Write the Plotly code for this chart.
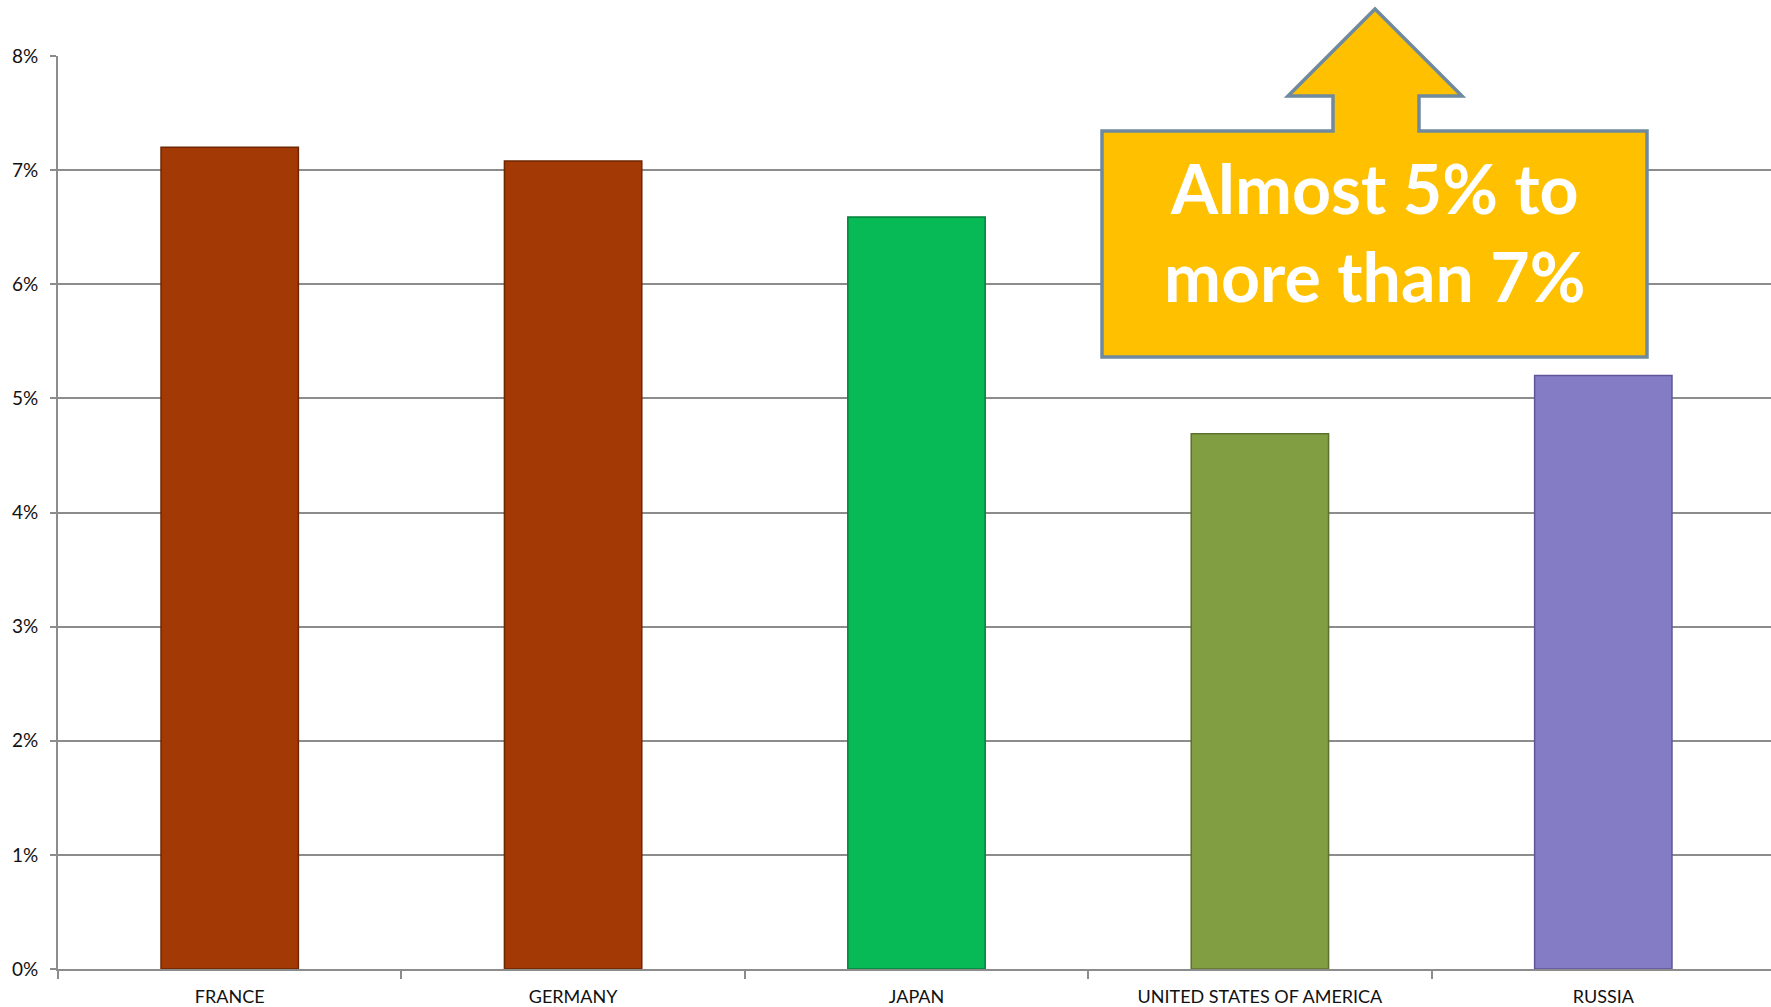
import plotly.graph_objects as go

countries = ["FRANCE", "GERMANY", "JAPAN", "UNITED STATES OF AMERICA", "RUSSIA"]
values = [7.20, 7.08, 6.59, 4.69, 5.20]
bar_colors = ["#A33905", "#A33905", "#07BA56", "#819E43", "#857CC6"]
edge_colors = ["#6E2603", "#6E2603", "#04803A", "#5A722C", "#5E5699"]
y_ticks = [0, 1, 2, 3, 4, 5, 6, 7, 8]
y_tick_labels = [f"{t}%" for t in y_ticks]
callout_lines = ["Almost 5% to", "more than 7%"]

W, H = 1771, 1007
L, R, T, B = 58, 0, 56, 38
pw, ph = W - L - R, H - T - B

def px(x):
    return (x - L) / pw

def py(y):
    return (H - B - y) / ph

fig = go.Figure()
fig.add_trace(go.Bar(
    x=countries, y=values,
    marker=dict(color=bar_colors, line=dict(color=edge_colors, width=1.5)),
    width=0.40,
    hoverinfo="skip",
))

grid = "#8C8C8C"
fig.update_layout(
    width=W, height=H,
    margin=dict(l=L, r=R, t=T, b=B),
    paper_bgcolor="white", plot_bgcolor="white",
    showlegend=False,
    font=dict(family="Lato, 'Open Sans', sans-serif", size=19, color="#111111"),
    xaxis=dict(
        type="category", range=[-0.5, -0.5 + pw / 343.4],
        showline=True, linecolor=grid, linewidth=2,
        ticks="outside", ticklen=8, tickwidth=1.5, tickcolor=grid,
        tickson="boundaries", showgrid=False,
        tickfont=dict(size=18), ticklabelstandoff=10,
    ),
    yaxis=dict(
        range=[0, 8], tickvals=y_ticks, ticktext=y_tick_labels,
        showline=True, linecolor=grid, linewidth=2,
        ticks="outside", ticklen=6, tickwidth=2, tickcolor=grid,
        showgrid=True, gridcolor=grid, gridwidth=2,
        zeroline=False, tickfont=dict(size=19), ticklabelstandoff=8,
    ),
)

# Callout arrow box (pixel geometry converted to paper coords)
pts = [
    (1102, 131), (1333, 131), (1333, 96), (1288, 96), (1375, 9),
    (1462, 96), (1419, 96), (1419, 131), (1647, 131), (1647, 357), (1102, 357),
]
path = "M " + " L ".join(f"{px(x):.5f},{py(y):.5f}" for x, y in pts) + " Z"
fig.add_shape(type="path", path=path, xref="paper", yref="paper",
              fillcolor="#FFC000", line=dict(color="#6F8A9E", width=3.5), layer="above")

fig.add_annotation(
    x=px(1374), y=py(232), xref="paper", yref="paper",
    text="<br>".join(callout_lines), showarrow=False,
    font=dict(family="Lato, sans-serif", size=68, color="white", weight="bold"),
    align="center", xanchor="center", yanchor="middle",
)

fig.write_html(
    "out.html",
    config={"displayModeBar": False},
    post_script="document.body.style.margin='0';document.body.style.overflow='hidden';",
)
